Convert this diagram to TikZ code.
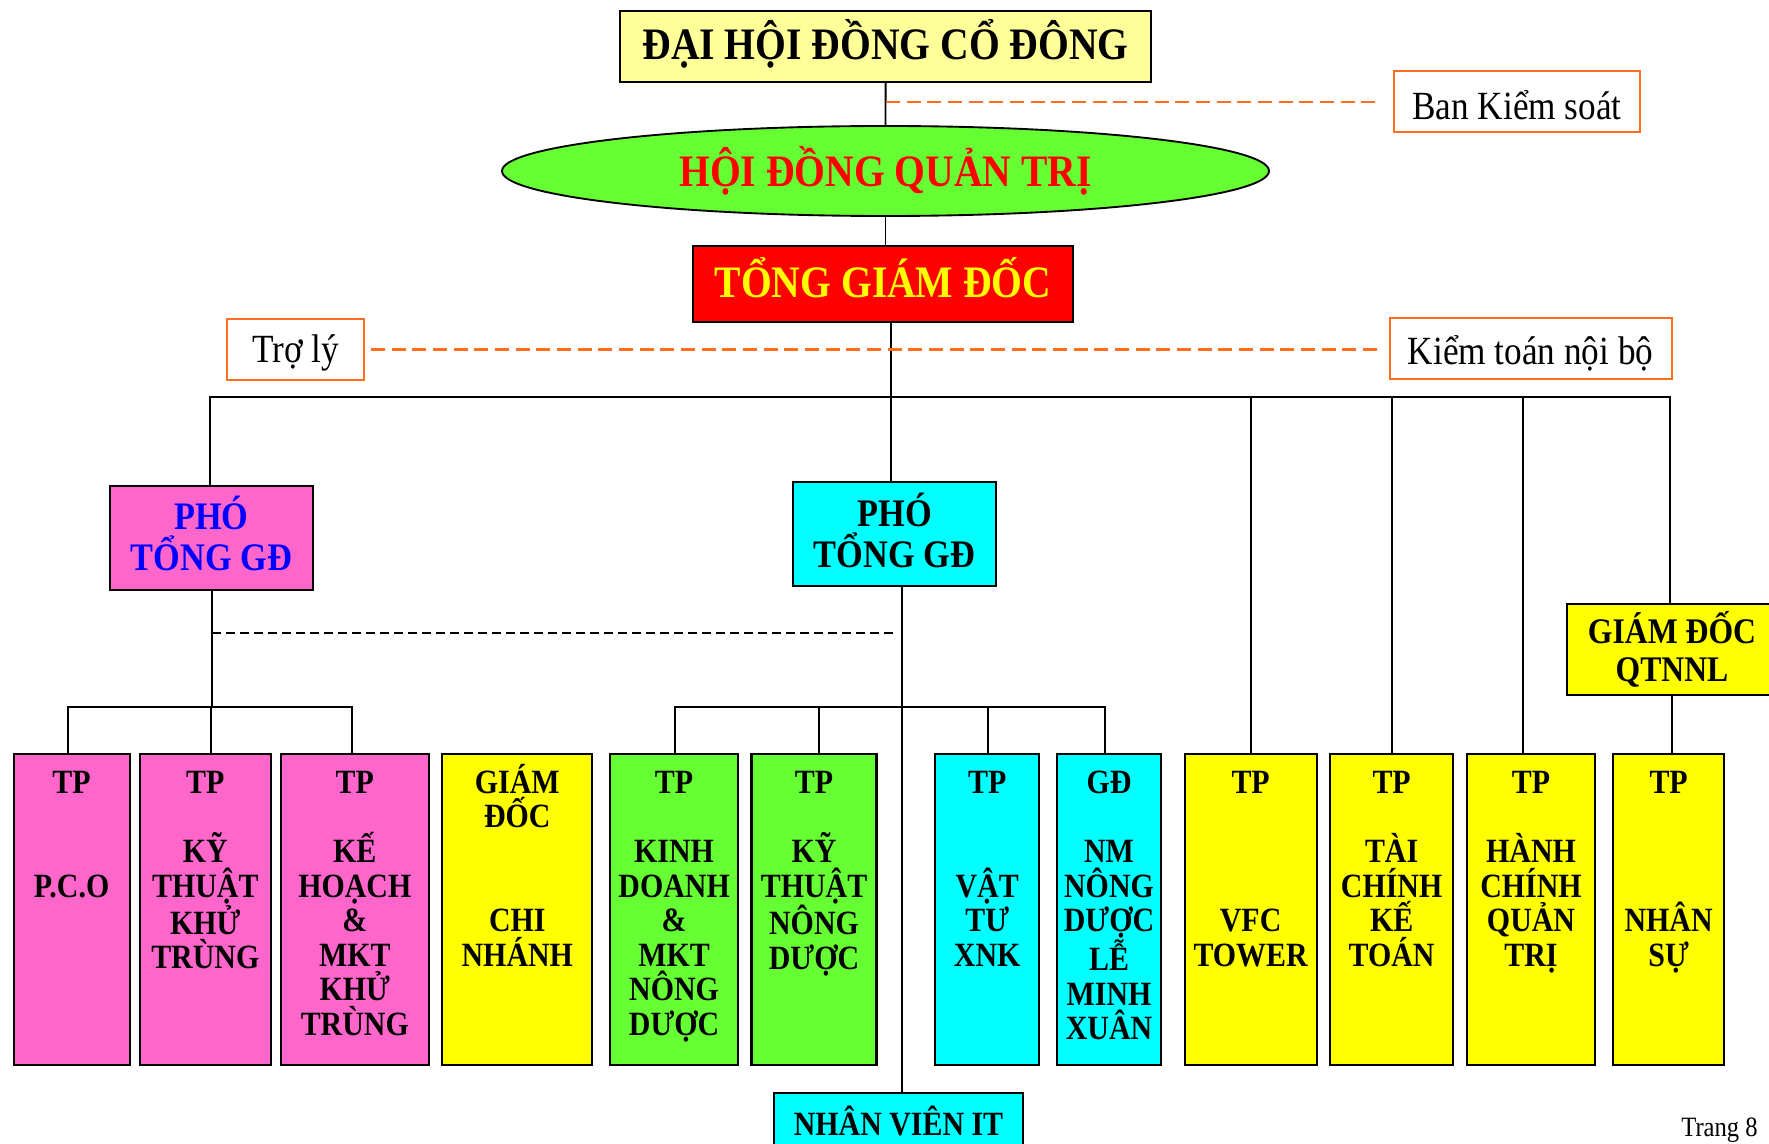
\documentclass[tikz,border=0pt]{standalone}
\usepackage{fontspec}
\setmainfont{Liberation Serif}[FakeStretch=0.88]
\usetikzlibrary{shapes.geometric}
\definecolor{pinkc}{HTML}{FF66CC}
\definecolor{cyanc}{HTML}{00FFFF}
\definecolor{greenc}{HTML}{66FF33}
\definecolor{yelc}{HTML}{FFFF00}
\definecolor{lyelc}{HTML}{FFFF99}
\definecolor{redc}{HTML}{FF0000}
\definecolor{bluec}{HTML}{0000FF}
\definecolor{orangec}{RGB}{255,110,30}
\newcommand\fs[2]{\fontsize{#1}{#2}\selectfont}
\newcommand\rl{\rule{0pt}{1em}}
\newcommand\bl{\mbox{}}
\newcommand\shiftt[2]{\raisebox{#1}[\height][\depth]{#2}}
\tikzset{
  sz/.style 2 args={minimum width=#1*0.75pt, minimum height=#2*0.75pt},
  box/.style={draw=black, line width=1.6pt, inner sep=0pt, align=center},
  obox/.style={draw=orangec, line width=1.4pt, fill=white, inner sep=0pt, font=\fs{30pt}{33pt}},
  conn/.style={draw=black, line width=1.4pt},
  odash/.style={draw=orangec, line width=1.6pt, dash pattern=on 10.5pt off 5pt},
  bdash/.style={draw=black, line width=1.6pt, dash pattern=on 6.5pt off 4pt},
  btxt/.style={anchor=north, align=center, inner sep=0pt, font=\bfseries\fs{25.5pt}{25.95pt}},
  dept/.style={box, minimum width=#1*0.75pt, minimum height=233.25pt},
}
\begin{document}
\begin{tikzpicture}[x=0.75pt,y=-0.75pt]
\clip (0,0) rectangle (1769,1144);
\fill[white] (0,0) rectangle (1769,1144);

% top levels
\node[box, fill=lyelc, sz={531}{71}, font=\bfseries\fs{33.75pt}{36pt}] (dh) at (885.6,46.5) {\shiftt{1.7pt}{ĐẠI HỘI ĐỒNG CỔ ĐÔNG}};
\node[box, ellipse, fill=greenc, line width=1.4pt, sz={767}{90}, text=redc, font=\bfseries\fs{33.75pt}{36pt}] (hd) at (885.5,171) {HỘI ĐỒNG QUẢN TRỊ};
\node[box, fill=redc, sz={379.5}{76}, text=yelc, font=\bfseries\fs{33.75pt}{36pt}] (tgd) at (883,284) {\shiftt{5pt}{TỔNG GIÁM ĐỐC}};

\node[obox, sz={246}{61}] (bks) at (1517,101.7) {\shiftt{-2.5pt}{Ban Kiểm soát}};
\node[obox, sz={137}{61}] (troly) at (295.6,349.5) {\shiftt{-2.5pt}{Trợ lý}};
\node[obox, sz={282}{61}] (ktnb) at (1530.6,348.2) {\shiftt{-4pt}{Kiểm toán nội bộ}};

\node[box, fill=pinkc, sz={203}{104}, text=bluec, text depth=6.75pt, font=\bfseries\fs{29.25pt}{30.75pt}] (pho1) at (211.5,538) {PHÓ\\TỔNG GĐ};
\node[box, fill=cyanc, sz={203}{104}, text depth=5pt, font=\bfseries\fs{29.25pt}{30.75pt}] (pho2) at (894.5,534) {PHÓ\\TỔNG GĐ};

\node[box, fill=yelc, sz={210}{91}, font=\bfseries\fs{27pt}{28.9pt}] (qt) at (1672,649.5) {GIÁM ĐỐC\\QTNNL};
\node[box, fill=cyanc, sz={249}{56}, font=\bfseries\fs{25.5pt}{27pt}] (nvit) at (898.5,1121) {NHÂN VIÊN IT};

% department boxes
\node[dept=116, fill=pinkc] (b1) at (71.6,909.5) {};
\node[dept=131, fill=pinkc] (b2) at (205.3,909.5) {};
\node[dept=148, fill=pinkc] (b3) at (354.8,909.5) {};
\node[dept=150, fill=yelc] (b4) at (517.3,909.5) {};
\node[dept=127.5, fill=greenc] (b5) at (674.1,909.5) {};
\node[dept=125, fill=greenc] (b6) at (814,909.5) {};
\node[dept=104, fill=cyanc] (b7) at (987.2,909.5) {};
\node[dept=104, fill=cyanc] (b8) at (1109,909.5) {};
\node[dept=132, fill=yelc] (b9) at (1250.6,909.5) {};
\node[dept=123, fill=yelc] (b10) at (1391.6,909.5) {};
\node[dept=128.6, fill=yelc] (b11) at (1531,909.5) {};
\node[dept=110.6, fill=yelc] (b12) at (1668.6,909.5) {};

\node[btxt] (t1) at (71.6,759) {\rl TP\\\bl\\\bl\\P.C.O};
\node[btxt] (t2) at (205.3,759) {\rl TP\\\bl\\KỸ\\THUẬT\\KHỬ\\TRÙNG};
\node[btxt] (t3) at (354.8,759) {\rl TP\\\bl\\KẾ\\HOẠCH\\\&\\MKT\\KHỬ\\TRÙNG};
\node[btxt] (t4) at (517.3,759) {\rl GIÁM\\ĐỐC\\\bl\\\bl\\CHI\\NHÁNH};
\node[btxt] (t5) at (674.1,759) {\rl TP\\\bl\\KINH\\DOANH\\\&\\MKT\\NÔNG\\DƯỢC};
\node[btxt] (t6) at (814,759) {\rl TP\\\bl\\KỸ\\THUẬT\\NÔNG\\DƯỢC};
\node[btxt] (t7) at (987.2,759) {\rl TP\\\bl\\\bl\\VẬT\\TƯ\\XNK};
\node[btxt] (t8) at (1109,759) {\rl GĐ\\\bl\\NM\\NÔNG\\DƯỢC\\LỄ\\MINH\\XUÂN};
\node[btxt] (t9) at (1250.6,759) {\rl TP\\\bl\\\bl\\\bl\\VFC\\TOWER};
\node[btxt] (t10) at (1391.6,759) {\rl TP\\\bl\\TÀI\\CHÍNH\\KẾ\\TOÁN};
\node[btxt] (t11) at (1531,759) {\rl TP\\\bl\\HÀNH\\CHÍNH\\QUẢN\\TRỊ};
\node[btxt] (t12) at (1668.6,759) {\rl TP\\\bl\\\bl\\\bl\\NHÂN\\SỰ};

\node[anchor=base east, inner sep=0pt, font=\fs{21pt}{24pt}] (trang) at (1758,1136) {Trang 8};

% coordinates
\coordinate (jt) at (891,397);
\coordinate (bll) at (210,397);
\coordinate (blr) at (1670,397);
\coordinate (v9) at (1251,397);
\coordinate (v10) at (1392,397);
\coordinate (v11) at (1523,397);
\coordinate (pk) at (212,707);
\coordinate (pkl) at (68,707);
\coordinate (pkm) at (211,707);
\coordinate (pkr) at (352,707);
\coordinate (dke) at (893,633);
\coordinate (gv) at (902,707);
\coordinate (gl) at (675,707);
\coordinate (g2) at (819,707);
\coordinate (g3) at (988,707);
\coordinate (gr) at (1105,707);
\coordinate (o1) at (886,101.7);

% connectors
\draw[conn] (dh.south) -- (hd.north);
\draw[conn] (hd.south) -- (hd.south |- tgd.north);
\draw[conn] (tgd.south -| jt) -- (jt |- pho2.north);
\draw[conn] (pho1.north -| bll) -- (bll) -- (blr) -- (qt.north -| blr);
\draw[conn] (v9) -- (v9 |- b9.north);
\draw[conn] (v10) -- (v10 |- b10.north);
\draw[conn] (v11) -- (v11 |- b11.north);
\draw[conn] (qt.south) -- (qt.south |- b12.north);

\draw[conn] (pho1.south -| pk) -- (pk);
\draw[conn] (pkl |- b1.north) -- (pkl) -- (pkr) -- (pkr |- b3.north);
\draw[conn] (pkm) -- (pkm |- b2.north);
\draw[bdash] (pk |- dke) -- (dke);

\draw[conn] (pho2.south -| gv) -- (nvit.north -| gv);
\draw[conn] (gl |- b5.north) -- (gl) -- (gr) -- (gr |- b8.north);
\draw[conn] (g2) -- (g2 |- b6.north);
\draw[conn] (g3) -- (g3 |- b7.north);

\draw[odash, shorten >=12pt] (o1) -- (o1 -| bks.west);
\draw[odash, shorten <=4.5pt, shorten >=9pt] (troly.east) -- (troly.east -| ktnb.west);
\end{tikzpicture}
\end{document}
